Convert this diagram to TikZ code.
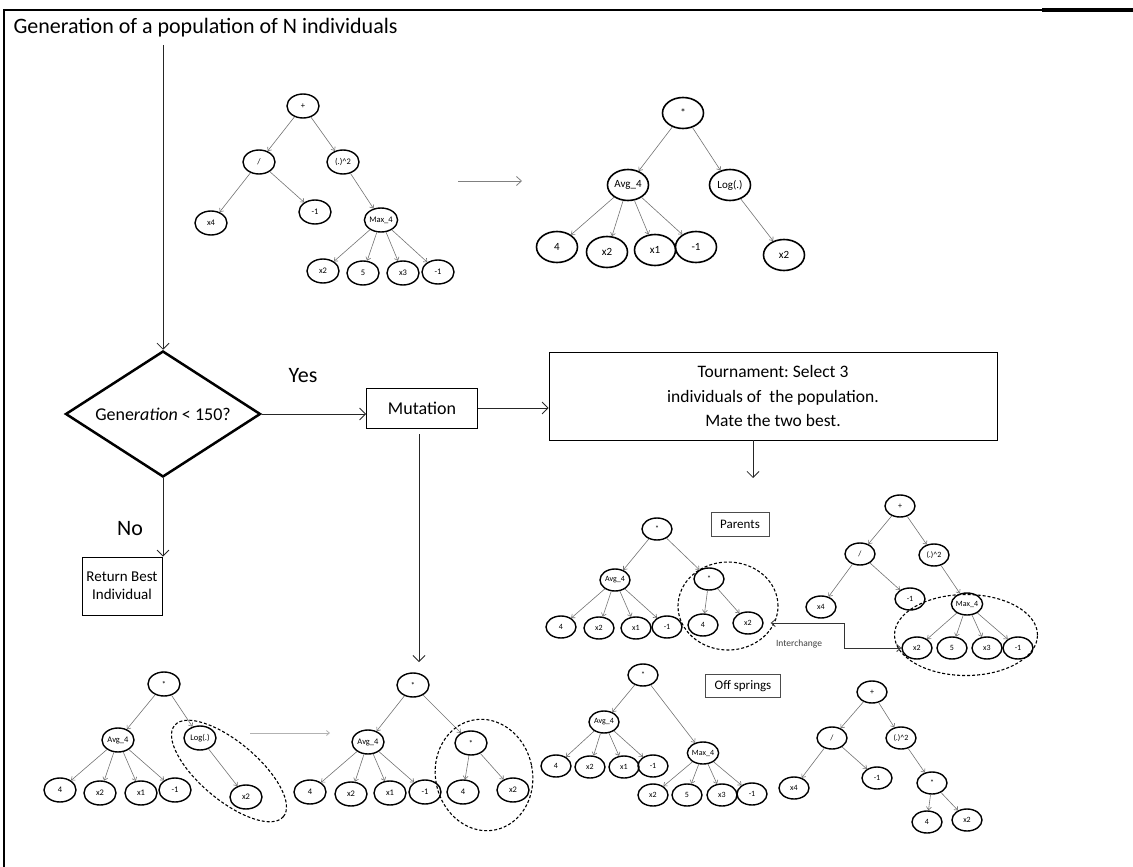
\documentclass[tikz,border=0pt]{standalone}
\usepackage{fontspec}
\setmainfont{Carlito}
\frenchspacing
\usetikzlibrary{shapes.geometric,arrows.meta}
\begin{document}
\begin{tikzpicture}[x=1pt,y=-1pt,
  flow/.style={draw=black!85, line width=0.8pt, -{Straight Barb[length=6pt,width=12pt,line width=0.8pt]}},
  garr/.style={draw=gray, line width=0.8pt, -{Straight Barb[length=5pt,width=9pt,line width=0.8pt]}},
  tarr/.style={draw=black!55, line width=0.6pt, -{Straight Barb[length=3pt,width=5pt,line width=0.6pt]}},
  t/.style={ellipse, draw, line width=1.4pt, inner sep=0pt, minimum width=32, minimum height=24, font=\fontsize{8.5}{9}\selectfont},
  ts/.style={t, minimum width=30, minimum height=22, font=\fontsize{8}{9}\selectfont},
  tb/.style={t, line width=1.6pt, minimum width=41, minimum height=31, font=\fontsize{11}{12}\selectfont},
  box/.style={draw, line width=0.8pt, inner sep=0pt},
  dsh/.style={ellipse, draw, line width=1.1pt, dash pattern=on 3pt off 2pt, inner sep=0pt}
]
\useasboundingbox (0,0) rectangle (1133,867);
% frame
\draw[line width=2pt] (4,867) -- (4,10) -- (1042,10);
\draw[line width=3.5pt] (1042,10) -- (1133,10);

% flow chart
\node[anchor=west, font=\fontsize{22}{24}\selectfont] (title) at (10,28) {Generation of a population of N individuals};
\node[diamond, draw, line width=2.5pt, aspect=1.55, inner sep=0pt, minimum width=195, minimum height=126, font=\fontsize{18}{19}\selectfont] (dec) at (163,414) {Gene\textit{ration} < 150?};
\coordinate (t0) at (163,45);
\draw[flow] (t0) -- (dec);
\node[font=\fontsize{22}{24}\selectfont] (yes) at (303,376) {Yes};
\node[font=\fontsize{22}{24}\selectfont] (no) at (130,529) {No};
\node[box, minimum width=111, minimum height=40, font=\fontsize{18}{19}\selectfont] (mut) at (422,408) {Mutation};
\node[box, minimum width=448, minimum height=88, align=center, font=\fontsize{17.5}{24.5}\selectfont] (tour) at (773,396) {Tournament: Select 3\\individuals of\ \ the population.\\Mate the two best.};
\node[box, minimum width=80, minimum height=58, align=center, font=\fontsize{15}{18}\selectfont] (rb) at (122,586) {Return Best\\Individual};
\draw[flow] (dec.east) -- (mut.west |- dec.east);
\draw[flow] (mut.east) -- (tour.west |- mut.east);
\draw[flow] (dec.south) -- (dec.south |- rb.north);
\coordinate (tp) at (753,478);
\draw[flow] (tour.south -| tp) -- (tp);
\coordinate (mdn) at (419,662);
\draw[flow] ([xshift=-3pt,yshift=-6pt]mut.south) -- (mdn);

% top tree 1
\node[t] (a1) at (303,106) {+};
\node[t] (a2) at (259,162) {/};
\node[t] (a3) at (343,162) {(.)\textasciicircum 2};
\node[t] (a4) at (211,223) {x4};
\node[t] (a5) at (315,212) {-1};
\node[t] (a6) at (381,220) {Max\_4};
\node[t] (a7) at (323,271) {x2};
\node[t] (a8) at (363,273) {5};
\node[t] (a9) at (403,273) {x3};
\node[t] (a10) at (438,272) {-1};
\foreach \p/\c in {a1/a2,a1/a3,a2/a4,a2/a5,a3/a6,a6/a7,a6/a8,a6/a9,a6/a10} \draw[tarr] (\p) -- (\c);
\coordinate (g0) at (458,181); \coordinate (g1) at (522,181);
\draw[garr] (g0) -- (g1);

% top tree 2
\node[tb] (b1) at (683,113) {*};
\node[tb] (b2) at (628,185) {Avg\_4};
\node[tb] (b3) at (730,185) {Log(.)};
\node[tb] (b4) at (557,247) {4};
\node[tb] (b5) at (607,252) {x2};
\node[tb] (b6) at (655,250) {x1};
\node[tb] (b7) at (696,247) {-1};
\node[tb] (b8) at (784,255) {x2};
\foreach \p/\c in {b1/b2,b1/b3,b2/b4,b2/b5,b2/b6,b2/b7,b3/b8} \draw[tarr] (\p) -- (\c);

% parents
\node[box, minimum width=58, minimum height=24, font=\fontsize{13}{14}\selectfont, draw=black!70] (par) at (740,524) {Parents};
\node[ts] (p1) at (657,529) {*};
\node[ts] (p2) at (615,580) {Avg\_4};
\node[ts] (p3) at (709,579) {*};
\node[ts] (p4) at (561,627) {4};
\node[ts] (p5) at (599,628) {x2};
\node[ts] (p6) at (636,628) {x1};
\node[ts] (p7) at (667,627) {-1};
\node[ts] (p8) at (703,625) {4};
\node[ts] (p9) at (748,623) {x2};
\foreach \p/\c in {p1/p2,p1/p3,p2/p4,p2/p5,p2/p6,p2/p7,p3/p8,p3/p9} \draw[tarr] (\p) -- (\c);
\node[dsh, minimum width=100, minimum height=88] (pd) at (728,606) {};

\node[ts] (q1) at (900,506) {+};
\node[ts] (q2) at (860,554) {/};
\node[ts] (q3) at (934,555) {(.)\textasciicircum 2};
\node[ts] (q4) at (821,607) {x4};
\node[ts] (q5) at (910,599) {-1};
\node[ts] (q6) at (967,604) {Max\_4};
\node[ts] (q7) at (917,648) {x2};
\node[ts] (q8) at (952,648) {5};
\node[ts] (q9) at (987,648) {x3};
\node[ts] (q10) at (1018,648) {-1};
\foreach \p/\c in {q1/q2,q1/q3,q2/q4,q2/q5,q3/q6,q6/q7,q6/q8,q6/q9,q6/q10} \draw[tarr] (\p) -- (\c);
\node[dsh, minimum width=143, minimum height=81] (qd) at (966,635) {};

\coordinate (ic) at (837,0);
\draw[draw=black!80, line width=0.8pt, {Straight Barb[length=4pt,width=7pt]}-{Straight Barb[length=4pt,width=7pt]}] ([xshift=7pt]p9.east) -- ([xshift=7pt]p9.east -| ic) |- (q7.west);
\node[font=\fontsize{9.5}{10}\selectfont, text=black!75] (ich) at (799,644) {Interchange};

% offsprings
\node[box, minimum width=75, minimum height=23, font=\fontsize{13}{14}\selectfont, draw=black!70] (off) at (743,686) {Off springs};
\node[ts] (o1) at (643,675) {*};
\node[ts] (o2) at (604,722) {Avg\_4};
\node[ts] (o3) at (703,753) {Max\_4};
\node[ts] (o4) at (556,766) {4};
\node[ts] (o5) at (590,767) {x2};
\node[ts] (o6) at (624,767) {x1};
\node[ts] (o7) at (653,766) {-1};
\node[ts] (o8) at (653,795) {x2};
\node[ts] (o9) at (687,795) {5};
\node[ts] (o10) at (722,795) {x3};
\node[ts] (o11) at (752,794) {-1};
\foreach \p/\c in {o1/o2,o1/o3,o2/o4,o2/o5,o2/o6,o2/o7,o3/o8,o3/o9,o3/o10,o3/o11} \draw[tarr] (\p) -- (\c);

\node[ts] (r1) at (872,692) {+};
\node[ts] (r2) at (832,738) {/};
\node[ts] (r3) at (901,738) {(.)\textasciicircum 2};
\node[ts] (r4) at (794,788) {x4};
\node[ts] (r5) at (877,778) {-1};
\node[ts] (r6) at (932,783) {*};
\node[ts] (r7) at (927,822) {4};
\node[ts] (r8) at (967,820) {x2};
\foreach \p/\c in {r1/r2,r1/r3,r2/r4,r2/r5,r3/r6,r6/r7,r6/r8} \draw[tarr] (\p) -- (\c);

% bottom-left tree
\node[t] (l1) at (164,684) {*};
\node[t] (l2) at (118,740) {Avg\_4};
\node[t] (l3) at (200,738) {Log(.)};
\node[t] (l4) at (60,790) {4};
\node[t] (l5) at (100,793) {x2};
\node[t] (l6) at (141,793) {x1};
\node[t] (l7) at (175,790) {-1};
\node[t] (l8) at (246,797) {x2};
\foreach \p/\c in {l1/l2,l1/l3,l2/l4,l2/l5,l2/l6,l2/l7,l3/l8} \draw[tarr] (\p) -- (\c);
\node[dsh, minimum width=142, minimum height=58, rotate=-40] (ld) at (229,771) {};
\coordinate (h0) at (250,733); \coordinate (h1) at (330,733);
\draw[garr, draw=gray!60, -{Straight Barb[length=3pt,width=5pt]}] (h0) -- (h1);

% bottom-middle tree
\node[t] (n1) at (413,685) {*};
\node[t] (n2) at (368,742) {Avg\_4};
\node[t] (n3) at (471,743) {*};
\node[t] (n4) at (310,792) {4};
\node[t] (n5) at (351,794) {x2};
\node[t] (n6) at (390,793) {x1};
\node[t] (n7) at (425,792) {-1};
\node[t] (n8) at (463,792) {4};
\node[t] (n9) at (513,790) {x2};
\foreach \p/\c in {n1/n2,n1/n3,n2/n4,n2/n5,n2/n6,n2/n7,n3/n8,n3/n9} \draw[tarr] (\p) -- (\c);
\node[dsh, minimum width=97, minimum height=112, rotate=12] (nd) at (484,775) {};
\end{tikzpicture}
\end{document}
